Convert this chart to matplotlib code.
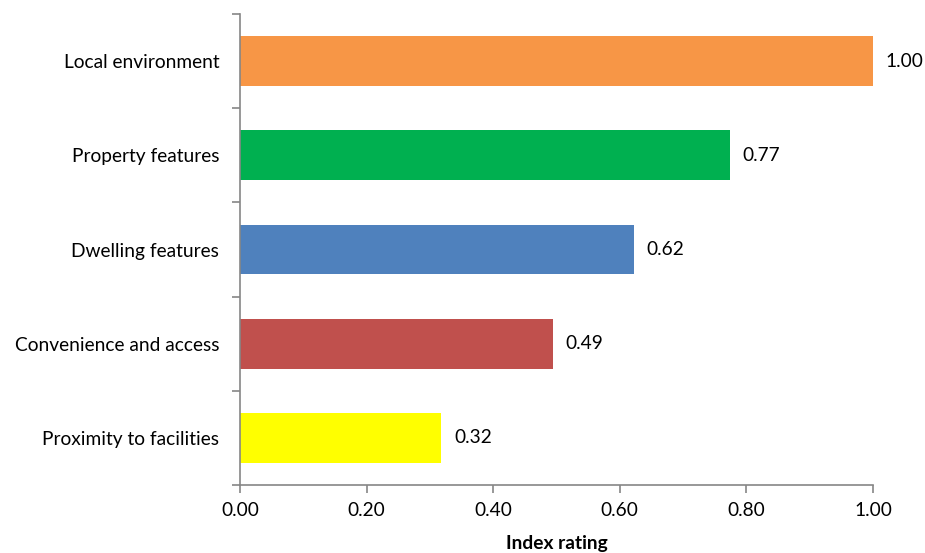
import matplotlib
matplotlib.use("Agg")
import matplotlib.pyplot as plt
import numpy as np

categories = ["Proximity to facilities", "Convenience and access", "Dwelling features",
              "Property features", "Local environment"]
values = [0.318, 0.494, 0.622, 0.774, 1.00]
colors = ["#FFFF00", "#C0504D", "#4F81BD", "#00B050", "#F79646"]
xticks = [0.0, 0.2, 0.4, 0.6, 0.8, 1.0]

plt.rcParams['font.family'] = ['Lato', 'DejaVu Sans']
FS = 13.8

fig = plt.figure(figsize=(9.25, 5.53), dpi=100)
ax = fig.add_axes([240/925, 1-485/553, (873-240)/925, (485-14)/553])

y = np.arange(len(categories))
ax.barh(y, values, height=0.53, color=colors)
for yi, v in zip(y, values):
    ax.text(v + 0.02, yi, f"{v:.2f}", va="center", ha="left", fontsize=FS, color="black")

ax.set_xlim(0, 1.0)
ax.set_ylim(-0.5, len(categories) - 0.5)
ax.set_xticks(xticks)
ax.set_xticklabels([f"{t:.2f}" for t in xticks], fontsize=FS)
ax.set_yticks(y)
ax.set_yticklabels(categories, fontsize=FS)
ax.set_yticks(np.arange(-0.5, len(categories)), minor=True)
ax.tick_params(axis='y', which='major', length=0, pad=15)
ax.tick_params(axis='y', which='minor', length=6, color="#868686", width=1.2)
ax.tick_params(axis='x', which='major', length=6, color="#868686", width=1.2, pad=6)

for s in ["top", "right"]:
    ax.spines[s].set_visible(False)
for s in ["left", "bottom"]:
    ax.spines[s].set_color("#868686")
    ax.spines[s].set_linewidth(1.2)

ax.set_xlabel("Index rating", fontsize=FS, fontweight="bold", labelpad=12)

fig.savefig("out.png", dpi=100)
